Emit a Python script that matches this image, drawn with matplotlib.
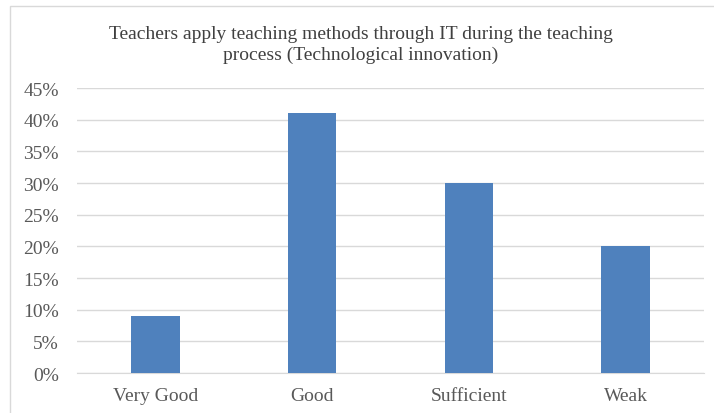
import matplotlib.pyplot as plt
from matplotlib.patches import Rectangle
from matplotlib.ticker import FuncFormatter

# Chart data
categories = ['Very Good', 'Good', 'Sufficient', 'Weak']
shares = [9, 41, 30, 20]
y_ticks = [0, 5, 10, 15, 20, 25, 30, 35, 40, 45]

plt.rcParams['font.family'] = ['Liberation Serif', 'DejaVu Serif']

fig = plt.figure(figsize=(7.14, 4.14), dpi=100)
ax = fig.add_axes([0.108, 0.0966, 0.878, 0.688])

ax.bar(categories, shares, width=0.31, color='#4F81BD', zorder=3)

ax.set_ylim(0, 45)
ax.set_xlim(-0.5, 3.5)
ax.set_yticks(y_ticks)
ax.yaxis.set_major_formatter(FuncFormatter(lambda v, p: f'{v:.0f}%'))
ax.grid(axis='y', color='#D9D9D9', linewidth=1, zorder=0)

for side in ['top', 'right', 'left']:
    ax.spines[side].set_visible(False)
ax.spines['bottom'].set_color('#D9D9D9')

ax.tick_params(axis='both', length=0, labelsize=14, colors='#595959')
ax.tick_params(axis='x', pad=10)
ax.tick_params(axis='y', pad=13)

fig.text(0.505, 0.891, 'Teachers apply teaching methods through IT during the teaching\nprocess (Technological innovation)',
         ha='center', va='center', fontsize=14, color='#404040', linespacing=1.25)

# light frame around the chart
fig.patches.append(Rectangle((10 / 714, -0.01), 1.0, 1 - 7 / 414 + 0.01, transform=fig.transFigure,
                             fill=False, edgecolor='#D9D9D9', linewidth=1))

fig.savefig('out.png', dpi=100)
